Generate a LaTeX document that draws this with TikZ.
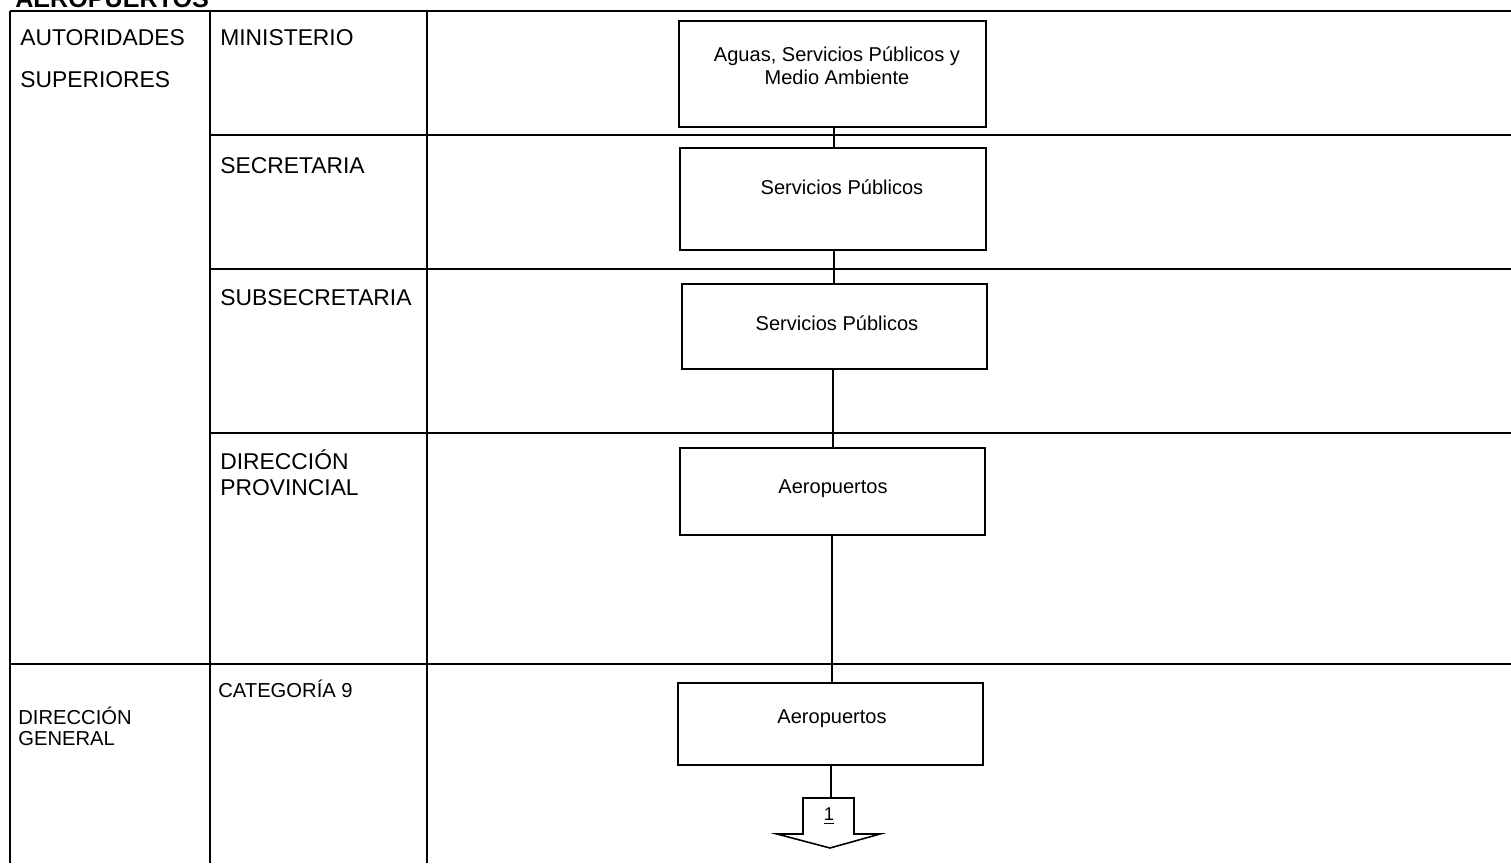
\documentclass[tikz,border=0pt]{standalone}
\usepackage{fontspec}
\setmainfont{Liberation Sans}
\begin{document}
\begin{tikzpicture}[x=0.02cm, y=-0.02cm,
    grid/.style={black, line width=1.1pt},
    caja/.style={draw, line width=0.8pt, inner sep=0pt},
    texto/.style={font=\fontsize{11.4}{13.2}\selectfont, align=center, inner sep=0pt},
    rotulo/.style={anchor=base west, inner sep=0pt, font=\fontsize{13}{15}\selectfont},
    rotulochico/.style={anchor=base west, inner sep=0pt, font=\fontsize{11.5}{13}\selectfont},
    enlace/.style={line width=0.9pt}]
    \useasboundingbox (0,0) rectangle (1511,863);
    \clip (0,0) rectangle (1511,863);

    % Titulo (cortado arriba)
    \node[anchor=base west, inner sep=0pt, font=\fontsize{14.3}{16}\selectfont\bfseries] (titulo) at (15,7) {AEROPUERTOS};

    % Tabla
    \draw[grid] (10,11) -- (1511,11);
    \draw[grid] (10,11) -- (10,863);
    \draw[grid] (210,11) -- (210,863);
    \draw[grid] (427,11) -- (427,863);
    \foreach \y in {135,269,433}
        \draw[grid] (210,\y) -- (1511,\y);
    \draw[grid] (10,664) -- (1511,664);

    % Rotulos de las filas
    \node[rotulo] (autsup1) at (20,45) {AUTORIDADES};
    \node[rotulo] (autsup2) at (20,87) {SUPERIORES};
    \node[rotulo] (lmin) at (220,45) {MINISTERIO};
    \node[rotulo] (lsec) at (220,173) {SECRETARIA};
    \node[rotulo] (lsubsec) at (220,305) {SUBSECRETARIA};
    \node[rotulo] (ldir1) at (220,469) {DIRECCIÓN};
    \node[rotulo] (ldir2) at (220,495) {PROVINCIAL};
    \node[rotulochico] (lcat) at (218,697) {CATEGORÍA 9};
    \node[rotulochico] (ldg1) at (18,724) {DIRECCIÓN};
    \node[rotulochico] (ldg2) at (18,745) {GENERAL};

    % Cajas
    \node[caja, minimum width=6.14cm, minimum height=2.12cm] (mins) at (832.5,74) {};
    \node[texto] (tmins) at (837,66) {Aguas, Servicios Públicos y\\Medio Ambiente};
    \node[caja, minimum width=6.12cm, minimum height=2.04cm] (secr) at (833,199) {};
    \node[texto, anchor=base] (tsecr) at (842,194) {Servicios Públicos};
    \node[caja, minimum width=6.1cm, minimum height=1.7cm] (subsecr) at (834.5,326.5) {};
    \node[texto, anchor=base] (tsubsecr) at (837,330) {Servicios Públicos};
    \node[caja, minimum width=6.1cm, minimum height=1.74cm] (dirprov) at (832.5,491.5) {};
    \node[texto, anchor=base] (tdirprov) at (833,493) {Aeropuertos};
    \node[caja, minimum width=6.1cm, minimum height=1.64cm] (cat) at (830.5,724) {};
    \node[texto, anchor=base] (tcat) at (832,723) {Aeropuertos};

    % Conector de pagina
    \coordinate (pg) at (831,798);
    \begin{scope}[shift={(830,798)}]
        \draw[enlace] (-27,0) -- (-27,36) -- (-53,36) -- (0,50) -- (50,36) -- (24,36) -- (24,0) -- cycle;
    \end{scope}
    \node[font=\fontsize{10.5}{12}\selectfont, inner sep=0pt] (pgnum) at (829,816) {\underline{1}};

    % Lineas
    \draw[enlace] (mins.south -| 834,0) -- (secr.north -| 834,0);
    \draw[enlace] (secr.south -| 834,0) -- (subsecr.north -| 834,0);
    \draw[enlace] (subsecr.south -| 833,0) -- (dirprov.north -| 833,0);
    \draw[enlace] (dirprov.south -| 832,0) -- (cat.north -| 832,0);
    \draw[enlace] (cat.south -| pg) -- (pg);
\end{tikzpicture}
\end{document}
